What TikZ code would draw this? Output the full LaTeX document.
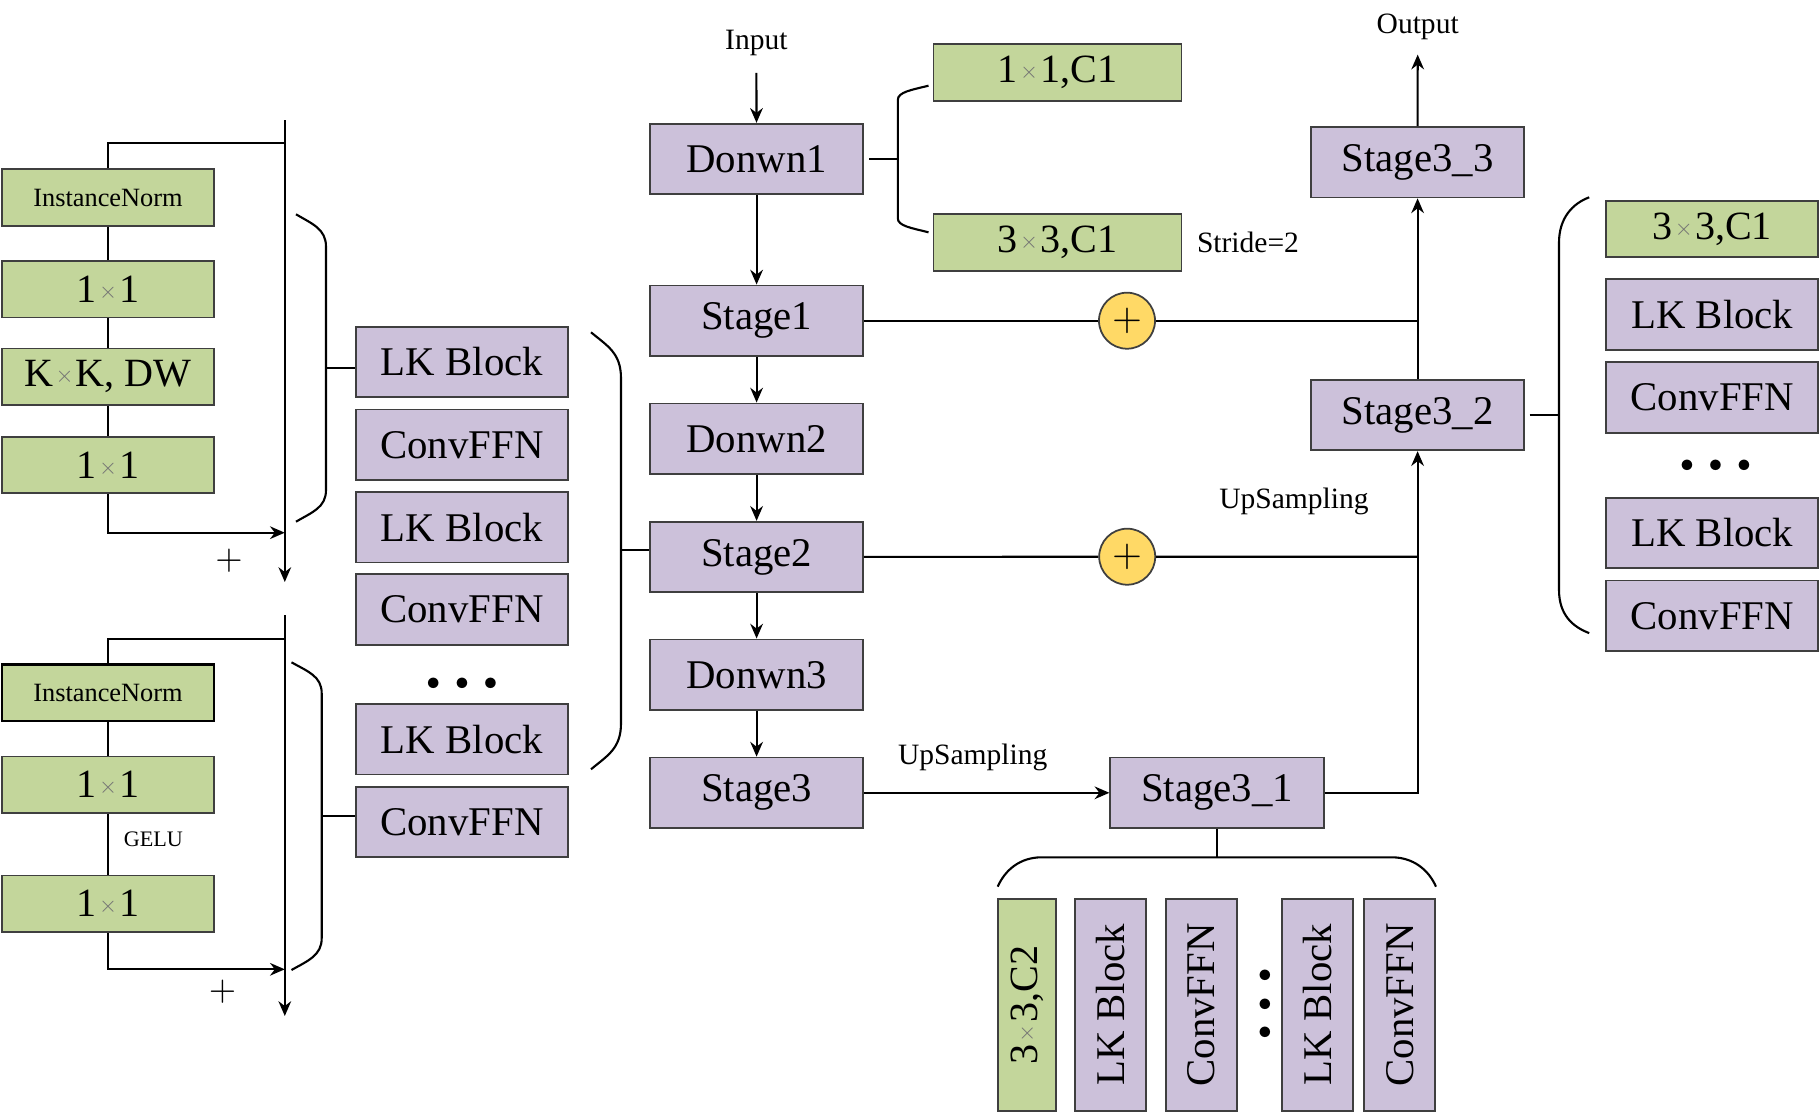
\documentclass[tikz,border=0pt]{standalone}
\usepackage{fontspec}
\setmainfont{Liberation Serif}
\usepackage{graphicx}
\usepackage{tikz}
\usetikzlibrary{arrows.meta}
\definecolor{grn}{HTML}{C3D69B}
\definecolor{purp}{HTML}{CCC1DA}
\definecolor{gold}{HTML}{FFD966}
\definecolor{edge}{HTML}{3F3F3F}
\newcommand{\smx}{\kern0.6pt\raisebox{0.1em}{\color{black!55}\scalebox{0.6}{$\times$}}\kern0.6pt}

\begin{document}
\begin{tikzpicture}[x=0.01cm, y=-0.01cm, >={Stealth[length=4.2pt,width=3.6pt]},
  pbox/.style={draw=edge, fill=purp, line width=0.5pt, inner sep=0pt, minimum width=2.125cm, minimum height=0.705cm, font=\fontsize{11.6}{12}\selectfont},
  gbox/.style={draw=edge, fill=grn, line width=0.5pt, inner sep=0pt, minimum width=2.12cm, minimum height=0.565cm, font=\fontsize{11.4}{12}\selectfont},
  lbl/.style={inner sep=0pt, font=\fontsize{8.4}{9}\selectfont},
  addc/.style={circle, draw=edge, fill=gold, line width=0.5pt, minimum size=0.56cm, inner sep=0pt, font=\fontsize{11}{11}\selectfont},
  dotsn/.style={inner sep=0pt, font=\fontsize{7.4}{7}\selectfont},
  wire/.style={line width=0.6pt}]
\useasboundingbox (0,0) rectangle (1820,1112);

% LK Block detail
\node[gbox, font=\fontsize{7.5}{8}\selectfont] (n1) at (108,197.5) {InstanceNorm};
\node[gbox] (a1) at (108,289.3) {1\smx1};
\node[gbox] (dw) at (108,376.8) {K\smx K, DW};
\node[gbox] (a2) at (108,465) {1\smx1};
\coordinate (v1t) at (284.8,120);
\coordinate (v1b) at (284.8,582);
\coordinate (j1) at (284.8,143.3);
\coordinate (j2) at (284.8,532.7);
\draw[wire,->] (v1t) -- (v1b);
\draw[wire] (n1.north) |- (j1);
\draw[wire] (n1) -- (a1) -- (dw) -- (a2);
\draw[wire,->] (a2.south) |- (j2);
\node[lbl, font=\fontsize{10}{10}\selectfont] (s1) at (229,561) {$+$};

% ConvFFN detail
\node[gbox, draw=black, line width=0.75pt, font=\fontsize{7.5}{8}\selectfont] (n2) at (108,692.7) {InstanceNorm};
\node[gbox] (a3) at (108,784.7) {1\smx1};
\node[gbox] (a4) at (108,903.7) {1\smx1};
\node[lbl, font=\fontsize{6.3}{7}\selectfont] (gelu) at (153.4,839.3) {GELU};
\coordinate (v2t) at (284.8,615);
\coordinate (v2b) at (284.8,1016);
\coordinate (j3) at (284.8,639.3);
\coordinate (j4) at (284.8,969.3);
\draw[wire,->] (v2t) -- (v2b);
\draw[wire] (n2.north) |- (j3);
\draw[wire] (n2) -- (a3) -- (a4);
\draw[wire,->] (a4.south) |- (j4);
\node[lbl, font=\fontsize{10}{10}\selectfont] (s2) at (222.6,991.7) {$+$};

% stage contents
\node[pbox] (lk1) at (462,362) {LK Block};
\node[pbox] (cf1) at (462,444.7) {ConvFFN};
\node[pbox] (lk2) at (462,527.3) {LK Block};
\node[pbox] (cf2) at (462,609.5) {ConvFFN};
\node[dotsn] (d1) at (462,684) {$\bullet\kern2.2pt\bullet\kern2.2pt\bullet$};
\node[pbox] (lk3) at (462,739.3) {LK Block};
\node[pbox] (cf3) at (462,822) {ConvFFN};

\draw[wire] (296,214.3) .. controls (312.5,224) and (326,229) .. (326,246.7) -- (326,490) .. controls (326,507.5) and (312.5,512) .. (296,521.7);
\draw[wire] (291.5,662.3) .. controls (308,671.6) and (321.7,676.2) .. (321.7,693.3) -- (321.7,938.3) .. controls (321.7,955.4) and (308,960.7) .. (291.5,970);
\draw[wire] (591,332.3) .. controls (607.5,346) and (621,353) .. (621,378.3) -- (621,723.3) .. controls (621,748.6) and (607.5,755.5) .. (591,769.3);
\coordinate (ta) at (326,367.7);
\coordinate (tb) at (321.7,816);
\coordinate (tc) at (621,550);
\draw[wire] (ta) -- (ta -| lk1.west);
\draw[wire] (tb) -- (tb -| cf3.west);

% encoder
\node[lbl] (inp) at (756.4,43.3) {Input};
\node[pbox] (dn1) at (756.6,159) {Donwn1};
\node[pbox] (st1) at (756.6,320.7) {Stage1};
\node[pbox] (dn2) at (756.6,438.7) {Donwn2};
\node[pbox] (st2) at (756.6,557) {Stage2};
\node[pbox] (dn3) at (756.6,674.7) {Donwn3};
\node[pbox] (st3) at (756.6,792.8) {Stage3};
\draw[wire] (tc) -- (tc -| st2.west);
\draw[wire,->] ([yshift=-4.6pt]inp.south) -- (dn1);
\draw[wire,->] (dn1) -- (st1);
\draw[wire,->] (st1) -- (dn2);
\draw[wire,->] (dn2) -- (st2);
\draw[wire,->] (st2) -- (dn3);
\draw[wire,->] (dn3) -- (st3);

% downsampling detail
\node[gbox, minimum width=2.48cm, minimum height=0.567cm] (c11) at (1057.5,72.7) {1\smx1,C1};
\node[gbox, minimum width=2.48cm, minimum height=0.567cm] (c33) at (1057.5,242.7) {3\smx3,C1};
\node[lbl] (strd) at (1248,242.3) {Stride=2};
\coordinate (td) at (897.8,159);
\draw[wire] ([xshift=1.5pt]dn1.east) -- (td);
\draw[wire] (928.5,85.7) .. controls (911.6,89.9) and (897.8,92) .. (897.8,100) -- (897.8,218.3) .. controls (897.8,226) and (911.6,228) .. (928.5,232.3);

% decoder
\node[addc] (add1) at (1127,320.7) {$+$};
\node[addc] (add2) at (1127.2,556.7) {$+$};
\node[pbox, minimum width=2.133cm] (st31) at (1217,792.8) {Stage3\_1};
\node[pbox] (st32) at (1417.6,415) {Stage3\_2};
\node[pbox] (st33) at (1417.6,162.2) {Stage3\_3};
\node[lbl] (outp) at (1417.7,26.9) {Output};
\node[lbl] (up1) at (972.7,757.3) {UpSampling};
\node[lbl] (up2) at (1294,501.7) {UpSampling};
\coordinate (k1) at (1417.6,320.7);
\coordinate (k2) at (1417.6,556.7);
\draw[wire] (st1) -- (add1) -- (k1);
\draw[wire] (st2) -- (add2) -- (k2);
\draw[wire,->] (st3) -- (st31);
\draw[wire,->] (st31.east) -| (st32.south);
\draw[wire,->] (st32) -- (st33);
\draw[wire,->] (st33) -- ([yshift=-4pt]outp.south);

% Stage3_2 detail
\node[gbox, minimum width=2.118cm, minimum height=0.564cm] (r33) at (1712.3,229) {3\smx3,C1};
\node[pbox, minimum width=2.118cm] (rlk1) at (1712.3,314.6) {LK Block};
\node[pbox, minimum width=2.118cm] (rcf1) at (1712.3,397.5) {ConvFFN};
\node[dotsn] (d2) at (1715.6,466.2) {$\bullet\kern2.2pt\bullet\kern2.2pt\bullet$};
\node[pbox, minimum width=2.118cm] (rlk2) at (1712.3,533) {LK Block};
\node[pbox, minimum width=2.118cm] (rcf2) at (1712.3,615.8) {ConvFFN};
\coordinate (te) at (1559,415);
\draw[wire] ([xshift=1.4pt]st32.east) -- (te);
\draw[wire] (1589.2,197.3) .. controls (1572.6,203.6) and (1559,217.8) .. (1559,242.8) -- (1559,589.8) .. controls (1559,614.8) and (1572.6,626.8) .. (1589.2,633.1);

% Stage3_1 detail
\node[gbox, rotate=90, minimum width=2.117cm, minimum height=0.574cm] (b1) at (1027,1004.8) {3\smx3,C2};
\node[pbox, rotate=90, minimum width=2.117cm, minimum height=0.71cm] (b2) at (1110.8,1004.8) {LK Block};
\node[pbox, rotate=90, minimum width=2.117cm, minimum height=0.71cm] (b3) at (1201.5,1004.8) {ConvFFN};
\node[dotsn, rotate=90] (d3) at (1265.3,1004) {$\bullet\kern2.2pt\bullet\kern2.2pt\bullet$};
\node[pbox, rotate=90, minimum width=2.117cm, minimum height=0.71cm] (b4) at (1317.2,1004.8) {LK Block};
\node[pbox, rotate=90, minimum width=2.117cm, minimum height=0.71cm] (b5) at (1399.8,1004.8) {ConvFFN};
\coordinate (tf) at (1217,857.3);
\draw[wire] (st31) -- (tf);
\draw[wire] (997.7,886.7) .. controls (1005,870) and (1020,857.3) .. (1041.7,857.3) -- (1391.7,857.3) .. controls (1413.4,857.3) and (1428.7,870) .. (1436,886.7);
\end{tikzpicture}
\end{document}
